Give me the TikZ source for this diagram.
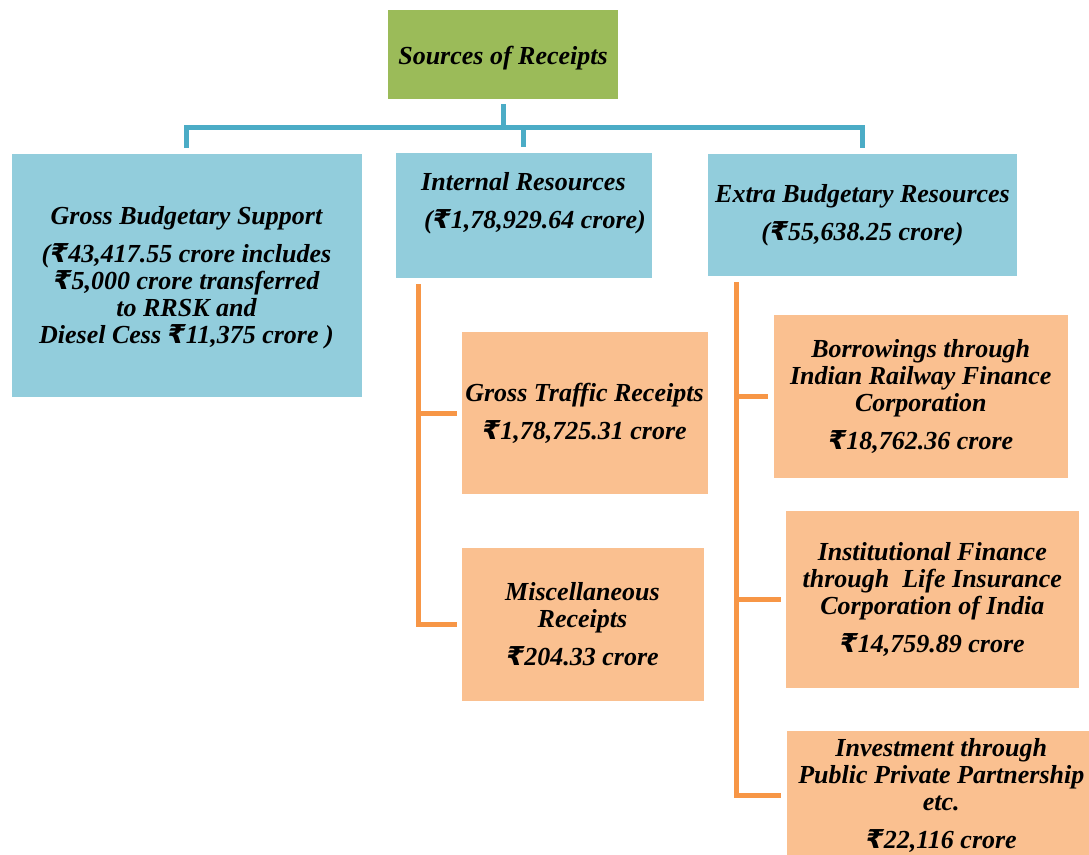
\documentclass[tikz,border=0pt]{standalone}
\usepackage{fontspec}
\setmainfont{Liberation Serif}
\newfontfamily\rupeefont{DejaVu Sans}
\newcommand{\rsym}{{\rupeefont\bfseries\itshape ₹}}
\definecolor{rootgreen}{HTML}{9BBB59}
\definecolor{boxblue}{HTML}{92CDDC}
\definecolor{boxorange}{HTML}{FAC090}
\definecolor{lineblue}{HTML}{4BACC6}
\definecolor{lineorange}{HTML}{F79646}
\begin{document}
\begin{tikzpicture}[x=1pt,y=-1pt,
  plainbox/.style={rectangle, inner sep=0pt, outer sep=0pt},
  rootbox/.style={plainbox, fill=rootgreen},
  bluebox/.style={plainbox, fill=boxblue},
  orangebox/.style={plainbox, fill=boxorange},
  txt/.style={align=center, inner sep=0pt, font=\fontsize{26}{27}\selectfont\bfseries\itshape},
  blueline/.style={draw=lineblue, line width=5pt, line join=miter},
  orangeline/.style={draw=lineorange, line width=5pt, line join=miter},
]
\useasboundingbox (0,0) rectangle (1089,854);

% boxes
\node[rootbox, minimum width=230pt, minimum height=89pt] (root) at (503,54.5) {};
\node[bluebox, minimum width=350pt, minimum height=243pt] (gbs) at (186.5,275.5) {};
\node[bluebox, minimum width=256.5pt, minimum height=125pt] (ir) at (523.75,215.5) {};
\node[bluebox, minimum width=309pt, minimum height=122pt] (ebr) at (862.5,215) {};
\node[orangebox, minimum width=246pt, minimum height=162pt] (gtr) at (584.5,413) {};
\node[orangebox, minimum width=242pt, minimum height=153.4pt] (misc) at (582.5,624.3) {};
\node[orangebox, minimum width=294.5pt, minimum height=162.6pt] (borrow) at (920.75,396.3) {};
\node[orangebox, minimum width=293pt, minimum height=177pt] (inst) at (932.3,599.5) {};
\node[orangebox, minimum width=309.4pt, minimum height=128pt] (invest) at (941.3,795) {};

% texts
\node[txt] (roott) at ([yshift=-4pt]root.center) {Sources of Receipts};
\node[txt] (gbst) at ([yshift=-2pt]gbs.center) {Gross Budgetary Support\\[11pt]
(\rsym43,417.55 crore includes\\
\rsym5,000 crore transferred\\
to RRSK and\\
Diesel Cess \rsym11,375 crore )};
\node[txt, align=left, anchor=west] (irt) at (421,203) {Internal Resources\\[11pt]
\hspace*{3pt}(\rsym1,78,929.64 crore)};
\node[txt] (ebrt) at (ebr.center) {Extra Budgetary Resources\\[11pt]
(\rsym55,638.25 crore)};
\node[txt] (gtrt) at (gtr.center) {Gross Traffic Receipts\\[11pt]
\rsym1,78,725.31 crore};
\node[txt] (misct) at (misc.center) {Miscellaneous\\
Receipts\\[11pt]
\rsym204.33 crore};
\node[txt] (borrowt) at (borrow.center) {Borrowings through\\
Indian Railway Finance\\
Corporation\\[11pt]
\rsym18,762.36 crore};
\node[txt] (instt) at (inst.center) {Institutional Finance\\
through\ \ Life Insurance\\
Corporation of India\\[11pt]
\rsym14,759.89 crore};
\node[txt] (investt) at (invest.center) {Investment through\\
Public Private Partnership\\
etc.\\[11pt]
\rsym22,116 crore};

% blue connectors
\coordinate (bus) at (503,127);
\draw[blueline, shorten <=5pt] (root.south) -- (root.south |- bus);
\draw[blueline, shorten <=6pt, shorten >=6pt] (gbs.north) -- (gbs.north |- bus) -- (ebr.north |- bus) -- (ebr.north);
\draw[blueline, shorten >=6pt] (ir.north |- bus) -- (ir.north);

% orange connectors
\coordinate (irx) at (418.5,0);
\coordinate (ebrx) at (736,0);
\draw[orangeline, shorten <=6pt, shorten >=5pt] (ir.south -| irx) |- (misc.west);
\draw[orangeline, shorten >=5pt] (irx |- gtr.west) -- (gtr.west);
\draw[orangeline, shorten <=6pt, shorten >=6pt] (ebr.south -| ebrx) |- (invest.west);
\draw[orangeline, shorten >=6pt] (ebrx |- borrow.west) -- (borrow.west);
\draw[orangeline, shorten >=5pt] (ebrx |- inst.west) -- (inst.west);
\end{tikzpicture}
\end{document}
